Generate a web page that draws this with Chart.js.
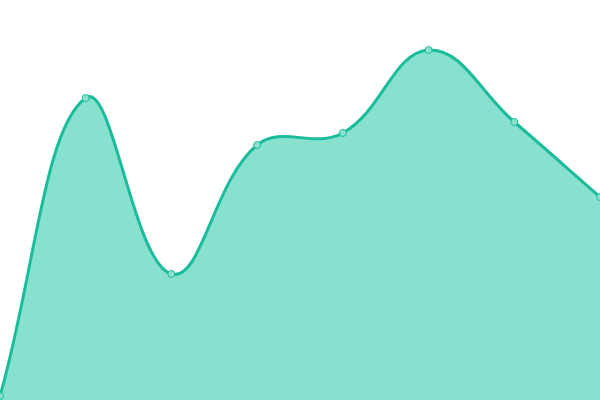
<!DOCTYPE html>
<html>
<head>
<meta charset="utf-8">
<script src="https://cdn.jsdelivr.net/npm/chart.js@4"></script>
<style>
  html, body { margin: 0; padding: 0; background: #fff; }
  #wrap { width: 600px; height: 400px; }
</style>
</head>
<body>
<div id="wrap"><canvas id="areaChart"></canvas></div>
<script>
// values (y scale 0..400)
const labels = ["1", "2", "3", "4", "5", "6", "7", "8"];
const values = [4, 302, 126, 255, 267, 350, 278, 203];

const ctx = document.getElementById("areaChart");
new Chart(ctx, {
    type: "line",
    data: {
        labels: labels,
        datasets: [{
            data: values,
            fill: true,
            tension: 0.4,
            borderColor: "#1abc9c",
            borderWidth: 3,
            backgroundColor: "#88e0cf",
            pointRadius: 3.5,
            pointBorderWidth: 1,
            pointBackgroundColor: "#8ce0cf",
            pointBorderColor: "#1abc9c",
        }],
    },
    options: {
        responsive: true,
        maintainAspectRatio: false,
        animation: false,
        layout: { padding: 0, autoPadding: false },
        plugins: {
            legend: { display: false },
            tooltip: { enabled: false },
        },
        scales: {
            x: { display: false, offset: false },
            y: { display: false, min: 0, max: 400 },
        },
    },
});
</script>
</body>
</html>
